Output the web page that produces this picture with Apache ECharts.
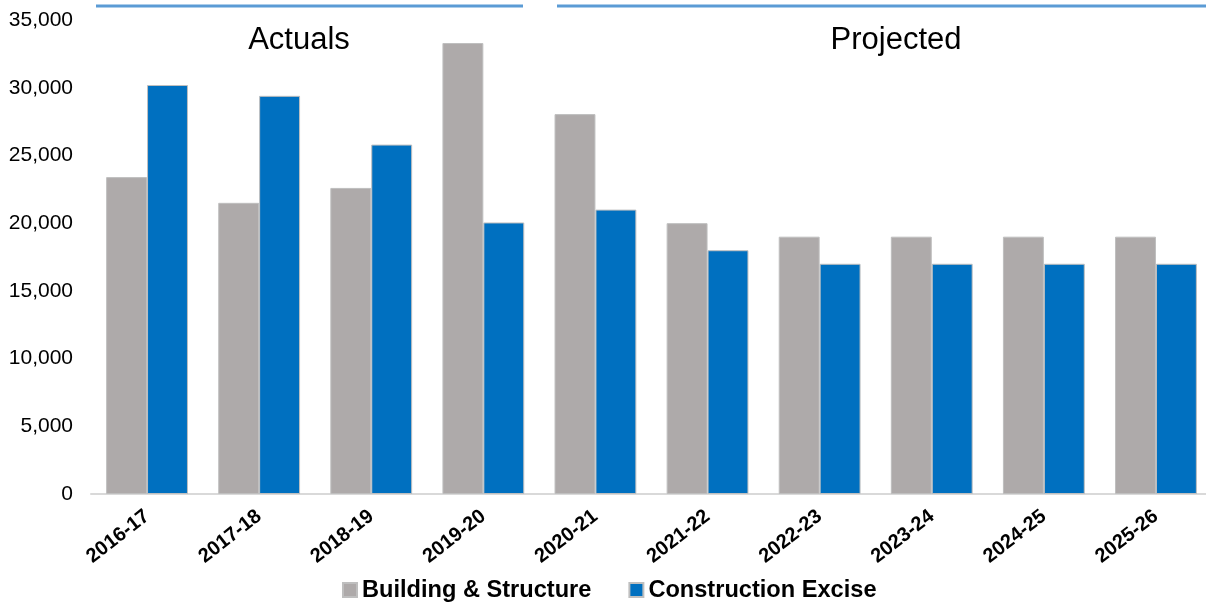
<!DOCTYPE html>
<html><head><meta charset="utf-8">
<script src="https://cdn.jsdelivr.net/npm/echarts@6/dist/echarts.min.js"></script>
<style>html,body{margin:0;padding:0;background:#fff;overflow:hidden}#c{width:1212px;height:603px}</style>
</head><body><div id="c"></div>
<script>
var categories = ['2016-17','2017-18','2018-19','2019-20','2020-21','2021-22','2022-23','2023-24','2024-25','2025-26'];
var buildingStructure = [23400, 21500, 22600, 33300, 28050, 20000, 19000, 19000, 19000, 19000];
var constructionExcise = [30200, 29400, 25800, 20050, 21000, 18000, 17000, 17000, 17000, 17000];
var seriesNames = ['Building & Structure', 'Construction Excise'];
var periodLabels = ['Actuals', 'Projected'];

var chart = echarts.init(document.getElementById('c'));
var font = '"Liberation Sans", Arial, sans-serif';
var barStyle = function(c){ return {color:c, borderColor:'#BFBFBF', borderWidth:1}; };
chart.setOption({
  animation:false,
  textStyle:{fontFamily:font},
  grid:{left:91,right:0,top:20,bottom:109,containLabel:false},
  legend:{
    top:573, left:337, itemWidth:14, itemHeight:14, itemGap:37,
    icon:'rect',
    textStyle:{fontSize:23.6,fontWeight:'bold',color:'#000',fontFamily:font,lineHeight:24},
    data:seriesNames
  },
  xAxis:{
    type:'category', data:categories,
    axisLine:{lineStyle:{color:'#D9D9D9',width:2}},
    axisTick:{show:false},
    axisLabel:{rotate:38,fontSize:20,fontWeight:'bold',color:'#000',margin:20,interval:0}
  },
  yAxis:{
    type:'value', min:0, max:35000, interval:5000,
    axisLine:{show:false}, axisTick:{show:false}, splitLine:{show:false},
    axisLabel:{fontSize:21,color:'#000',margin:18,
      formatter:function(v){return v.toLocaleString('en-US');}}
  },
  series:[
    {name:seriesNames[0],type:'bar',data:buildingStructure,barGap:'0%',barCategoryGap:'27%',itemStyle:barStyle('#AEAAAA')},
    {name:seriesNames[1],type:'bar',data:constructionExcise,itemStyle:barStyle('#0070C0')}
  ],
  graphic:[
    {type:'line',shape:{x1:96,y1:6,x2:523,y2:6},style:{stroke:'#5B9BD5',lineWidth:3}},
    {type:'line',shape:{x1:557,y1:6,x2:1212,y2:6},style:{stroke:'#5B9BD5',lineWidth:3}},
    {type:'text',x:299,y:40,style:{text:periodLabels[0],font:'31px "Liberation Sans", Arial',fill:'#000',align:'center',verticalAlign:'middle'}},
    {type:'text',x:896,y:40,style:{text:periodLabels[1],font:'31px "Liberation Sans", Arial',fill:'#000',align:'center',verticalAlign:'middle'}}
  ]
});
</script></body></html>
